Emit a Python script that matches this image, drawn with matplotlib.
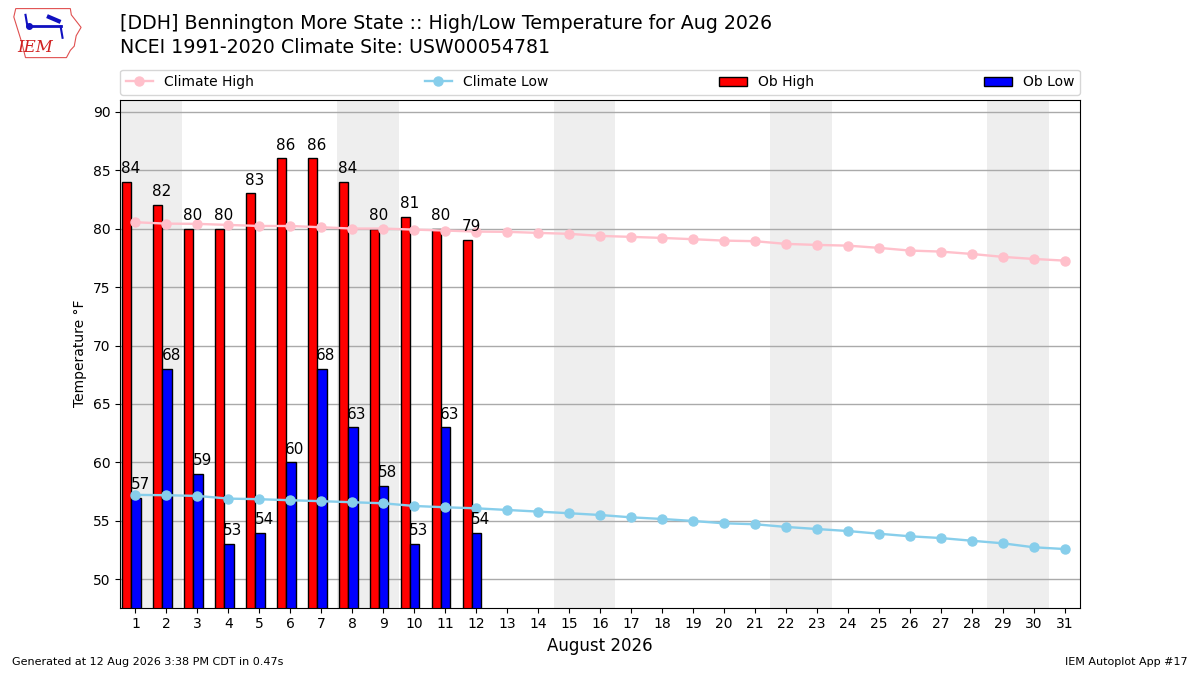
import matplotlib
matplotlib.use("Agg")
import matplotlib.pyplot as plt
from matplotlib.patches import Polygon

days = list(range(1, 32))
ob_days = list(range(1, 13))
ob_high = [84, 82, 80, 80, 83, 86, 86, 84, 80, 81, 80, 79]
ob_low = [57, 68, 59, 53, 54, 60, 68, 63, 58, 53, 63, 54]
clim_high = [80.54, 80.42, 80.40, 80.31, 80.22, 80.22, 80.11, 80.00, 80.00, 79.91,
             79.83, 79.74, 79.72, 79.63, 79.55, 79.37, 79.29, 79.20, 79.09, 78.97,
             78.92, 78.69, 78.60, 78.54, 78.35, 78.12, 78.03, 77.83, 77.58, 77.40, 77.26]
clim_low = [57.23, 57.20, 57.14, 56.91, 56.86, 56.77, 56.69, 56.60, 56.51, 56.28,
            56.17, 56.08, 55.94, 55.80, 55.66, 55.51, 55.31, 55.17, 55.00, 54.80,
            54.72, 54.49, 54.31, 54.14, 53.91, 53.69, 53.54, 53.31, 53.09, 52.75, 52.60]
weekends = [(1, 2), (8, 9), (15, 16), (22, 23), (29, 30)]

fig = plt.figure(figsize=(12, 6.75), dpi=100)
ax = fig.add_axes([0.1, 0.1, 0.8, 0.752])

for a, b in weekends:
    ax.axvspan(a - 0.5, b + 0.5, color="#eeeeee", zorder=0, lw=0)

w = 0.3
ax.bar([d - 0.43 for d in ob_days], ob_high, width=w, align="edge", color="red",
       edgecolor="k", zorder=2, label="Ob High")
ax.bar([d - 0.13 for d in ob_days], ob_low, width=w, align="edge", color="blue",
       edgecolor="k", zorder=2, label="Ob Low")
for d, v in zip(ob_days, ob_high):
    ax.text(d - 0.15, v + 0.5, f"{v:.0f}", ha="center", va="bottom", fontsize=11, zorder=4)
for d, v in zip(ob_days, ob_low):
    ax.text(d + 0.15, v + 0.5, f"{v:.0f}", ha="center", va="bottom", fontsize=11, zorder=4)

ax.plot(days, clim_high, color="pink", marker="o", lw=1.7, ms=6.5, zorder=3, label="Climate High")
ax.plot(days, clim_low, color="skyblue", marker="o", lw=1.7, ms=6.5, zorder=3, label="Climate Low")

ax.set_xlim(0.5, 31.5)
ax.set_ylim(min(min(ob_low), min(clim_low)) - 5, max(max(ob_high), max(clim_high)) + 5)
ax.set_xticks(days)
ax.set_xticklabels([str(d) for d in days])
ax.set_yticks(range(50, 91, 5))
ax.tick_params(labelsize=10)
ax.yaxis.grid(True, color="#aaaaaa", lw=1, zorder=1)
ax.set_axisbelow(True)
ax.set_xlabel("August 2026", fontsize=12)
ax.set_ylabel("Temperature \u00b0F", fontsize=10)

handles, labels = ax.get_legend_handles_labels()
order = [labels.index(n) for n in ["Climate High", "Climate Low", "Ob High", "Ob Low"]]
ax.legend([handles[i] for i in order], [labels[i] for i in order], ncol=4,
          loc="lower left", bbox_to_anchor=(0, 1.01, 1, 0.05), mode="expand",
          borderaxespad=0, fontsize=10)

fig.text(0.1, 0.965, "[DDH] Bennington More State :: High/Low Temperature for Aug 2026",
         fontsize=13.7, va="center")
fig.text(0.1, 0.93, "NCEI 1991-2020 Climate Site: USW00054781", fontsize=13.7, va="center")
fig.text(0.01, 0.015, "Generated at 12 Aug 2026 3:38 PM CDT in 0.47s", fontsize=8)
fig.text(0.99, 0.015, "IEM Autoplot App #17", fontsize=8, ha="right")

# simple logo approximation
lax = fig.add_axes([0.005, 0.91, 0.065, 0.085])
lax.set_xlim(0, 80)
lax.set_ylim(0, 55)
lax.axis("off")
iowa = [(10, 50), (66, 50), (67, 44), (72, 38), (77, 32), (72, 24), (70, 14), (66, 10),
        (62, 3), (20, 3), (16, 18), (12, 30), (8, 42)]
lax.add_patch(Polygon(iowa, closed=True, fill=False, edgecolor="#e05050", lw=0.8))
lax.plot([24, 56], [33, 33], color="#1010c0", lw=2)
lax.plot([56, 58], [33, 22], color="#1010c0", lw=1.5)
lax.plot([22, 20], [33, 44], color="#1010c0", lw=1.5)
lax.plot([24], [33], "o", color="#1010c0", ms=4)
lax.plot([44, 54], [42, 38], color="#1010c0", lw=3)
lax.text(30, 8, "IEM", color="#d02020", fontsize=12, family="DejaVu Serif",
         style="italic", ha="center")

fig.savefig("out.png", dpi=100)
